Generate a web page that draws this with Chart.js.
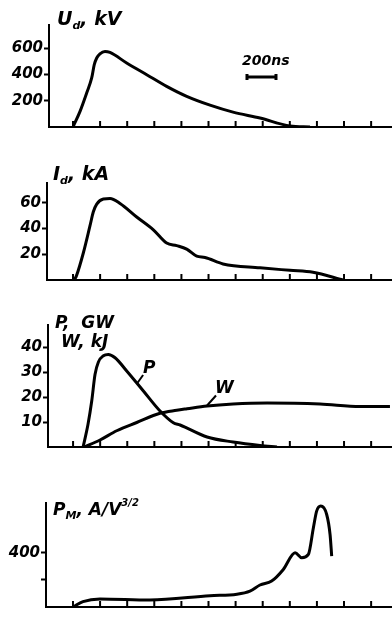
<!DOCTYPE html>
<html>
<head>
<meta charset="utf-8">
<script src="https://cdn.jsdelivr.net/npm/chart.js@4.4.1/dist/chart.umd.min.js"></script>
<style>
  html, body { margin: 0; padding: 0; background: #fff; }
  body { width: 392px; height: 617px; position: relative; overflow: hidden; font-family: "DejaVu Sans", sans-serif; }
  canvas { position: absolute; left: 0; }
  .lbl { position: absolute; font-style: italic; font-weight: bold; font-size: 19px; color: #000; white-space: nowrap; line-height: 1; }
  .lbl sub { font-size: 11px; vertical-align: -4px; }
  .lbl sup { font-size: 10px; vertical-align: 9px; }
</style>
</head>
<body>
<canvas id="c1" width="392" height="140" style="top:0px"></canvas>
<canvas id="c2" width="392" height="150" style="top:140px"></canvas>
<canvas id="c3" width="392" height="170" style="top:290px"></canvas>
<canvas id="c4" width="392" height="157" style="top:460px"></canvas>

<div class="lbl" style="left:57px;top:9px;font-size:19px">U<sub>d</sub>, kV</div>
<div class="lbl" style="left:53px;top:164px">I<sub>d</sub>, kA</div>
<div class="lbl" style="left:55px;top:314px;font-size:17px">P,&nbsp; GW</div>
<div class="lbl" style="left:61px;top:333px;font-size:17px">W, kJ</div>
<div class="lbl" style="left:53px;top:498px;font-size:17px">P<sub>M</sub>, A/V<sup>3/2</sup></div>

<script>
// time axis, ns (one tick = 200 ns)
const tickNs = [0, 200, 400, 600, 800, 1000, 1200, 1400, 1600, 1800, 2000, 2200];

// diode voltage, kV
const uTime = [0, 52, 101, 138, 157, 175, 199, 236, 273, 396, 544, 691, 839, 1011, 1181, 1380, 1601, 1749];
const uKV   = [0, 119, 259, 373, 474, 525, 557, 575, 567, 487, 398, 309, 233, 166, 113, 68, 8, 0];
const uTicks = [200, 400, 600];

// diode current, kA
const iTime = [10, 27, 76, 125, 150, 175, 224, 273, 347, 470, 593, 691, 765, 839, 913, 974, 1107, 1380, 1601, 1771, 1993];
const iKA   = [0, 3.8, 21, 42, 53, 59, 63, 63.3, 59.5, 49, 39, 28.7, 26.7, 24, 18.5, 17.5, 12.5, 9.5, 7.5, 6, 0];
const iTicks = [20, 40, 60];

// power GW and energy kJ
const pTime = [74, 110, 138, 162, 187, 224, 260, 310, 396, 519, 642, 740, 790, 989, 1181, 1380, 1505];
const pGW   = [0, 9, 18.5, 29, 34, 36.5, 37, 35.7, 30.4, 22.4, 14.4, 9.7, 8.8, 4, 2, 0.6, 0];
const wTime = [85, 199, 322, 470, 642, 765, 841, 989, 1181, 1432, 1823, 2118, 2339];
const wKJ   = [0, 2.8, 6.5, 9.8, 13.5, 14.7, 15.3, 16.4, 17.2, 17.6, 17.2, 16.2, 16.2];
const pwTicks = [10, 20, 30, 40];

// perveance, A/V^3/2
const mTime = [0, 74, 199, 568, 1011, 1210, 1306, 1380, 1466, 1552, 1639, 1688, 1737, 1774, 1798, 1828, 1872, 1897, 1909];
const mPerv = [0, 40, 60, 52, 84, 95, 118, 163, 192, 278, 402, 365, 389, 587, 710, 747, 685, 537, 377];
const mTicks = [200, 400];
const mLabels = [400];

const tickFont = { family: "DejaVu Sans", size: 15, style: "italic", weight: "bold" };

const pts = (xs, ys) => xs.map((x, i) => ({ x: x, y: ys[i] }));

// little tick marks standing up from the time axis
const inTicks = {
  id: "inTicks",
  afterDraw(chart) {
    const { ctx, chartArea, scales } = chart;
    ctx.save();
    ctx.strokeStyle = "#000";
    ctx.lineWidth = 2;
    tickNs.forEach(v => {
      const px = scales.x.getPixelForValue(v);
      ctx.beginPath();
      ctx.moveTo(px, chartArea.bottom);
      ctx.lineTo(px, chartArea.bottom - 6);
      ctx.stroke();
    });
    ctx.restore();
  }
};

// text notes and the scale bar, placed in data units
function notes(list) {
  return {
    id: "notes",
    afterDraw(chart) {
      const { ctx, scales } = chart;
      const X = v => scales.x.getPixelForValue(v);
      const Y = v => scales.y.getPixelForValue(v);
      ctx.save();
      ctx.strokeStyle = "#000";
      ctx.fillStyle = "#000";
      ctx.lineWidth = 2;
      list.forEach(n => {
        if (n.lead) {
          ctx.beginPath();
          ctx.moveTo(X(n.lead[0]), Y(n.lead[1]));
          ctx.lineTo(X(n.lead[2]), Y(n.lead[3]));
          ctx.stroke();
        }
        if (n.bar) {
          const y = Y(n.bar[2]);
          ctx.lineWidth = 3;
          ctx.beginPath();
          ctx.moveTo(X(n.bar[0]), y);
          ctx.lineTo(X(n.bar[1]), y);
          ctx.moveTo(X(n.bar[0]), y - 3);
          ctx.lineTo(X(n.bar[0]), y + 3);
          ctx.moveTo(X(n.bar[1]), y - 3);
          ctx.lineTo(X(n.bar[1]), y + 3);
          ctx.stroke();
        }
        if (n.text) {
          ctx.font = n.font || "italic bold 17px 'DejaVu Sans'";
          ctx.textAlign = "left";
          ctx.textBaseline = "bottom";
          ctx.fillText(n.text, X(n.x), Y(n.y));
        }
      });
      ctx.restore();
    }
  };
}

function makeChart(id, datasets, o) {
  new Chart(document.getElementById(id), {
    type: "line",
    data: { datasets: datasets.map(d => ({
      data: d,
      borderColor: "#000",
      borderWidth: 3,
      pointRadius: 0,
      fill: false,
      cubicInterpolationMode: "monotone"
    })) },
    options: {
      responsive: false,
      animation: false,
      layout: { padding: { top: o.top, right: 0, bottom: 0, left: 0 } },
      plugins: { legend: { display: false }, tooltip: { enabled: false } },
      scales: {
        x: {
          type: "linear",
          min: o.xMin,
          max: 2354,
          afterBuildTicks: s => { s.ticks = tickNs.map(v => ({ value: v })); },
          afterFit: s => { s.height = o.bottom; },
          ticks: { display: false },
          grid: { display: true, drawOnChartArea: false, drawTicks: false },
          border: { color: "#000", width: 2 }
        },
        y: {
          min: 0,
          max: o.yMax,
          afterBuildTicks: s => { s.ticks = o.yTicks.map(v => ({ value: v })); },
          afterFit: s => { s.width = o.axisX; },
          ticks: {
            color: "#000",
            font: tickFont,
            padding: 1,
            callback: v => (o.yLabels || o.yTicks).includes(v) ? String(v) : ""
          },
          grid: { drawOnChartArea: false, tickLength: 5, tickColor: "#000", tickWidth: 2 },
          border: { color: "#000", width: 2 }
        }
      }
    },
    plugins: [inTicks].concat(o.notes ? [notes(o.notes)] : [])
  });
}

makeChart("c1", [pts(uTime, uKV)], {
  top: 25, bottom: 13, axisX: 49, xMin: -177, yMax: 776, yTicks: uTicks,
  notes: [
    { text: "200ns", x: 1247, y: 449, font: "italic bold 14px 'DejaVu Sans'" },
    { bar: [1284, 1498, 380] }
  ]
});

makeChart("c2", [pts(iTime, iKA)], {
  top: 43, bottom: 9, axisX: 47, xMin: -192, yMax: 75.4, yTicks: iTicks
});

makeChart("c3", [pts(pTime, pGW), pts(wTime, wKJ)], {
  top: 35, bottom: 13, axisX: 48, xMin: -185, yMax: 48.8, yTicks: pwTicks,
  notes: [
    { text: "P", x: 517, y: 28, lead: [472, 25.4, 517, 28.8] },
    { text: "W", x: 1048, y: 20, lead: [989, 16.6, 1055, 20.6] }
  ]
});

makeChart("c4", [pts(mTime, mPerv)], {
  top: 43, bottom: 10, axisX: 46, xMin: -199, yMax: 770, yTicks: mTicks, yLabels: mLabels
});
</script>
</body>
</html>
